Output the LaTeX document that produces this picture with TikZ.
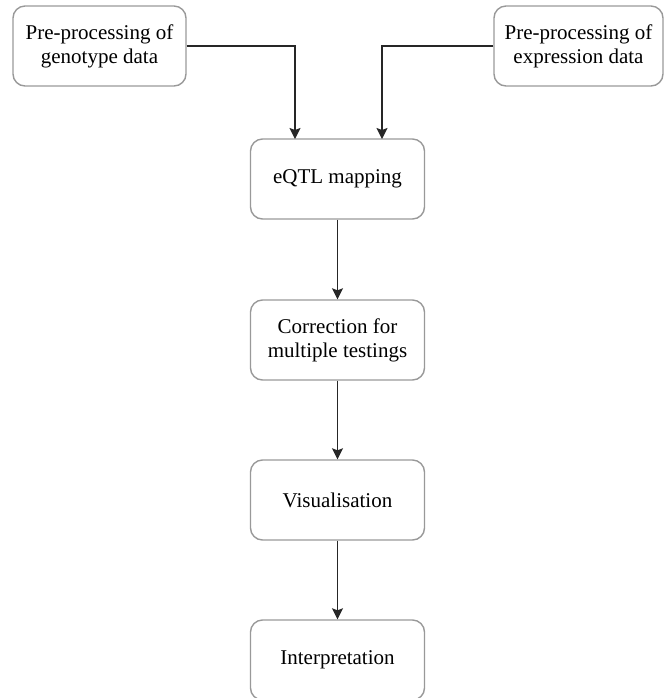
\documentclass[tikz,border=0pt]{standalone}
\usepackage{fontspec}
\setmainfont{Liberation Serif}
\usepackage{tikz}
\usetikzlibrary{arrows.meta}

\tikzset{
  procbox/.style={draw=black!40,line width=0.7pt,rounded corners=6pt,
    minimum width=87pt,minimum height=40pt,inner sep=0pt,align=center,
    font=\fontsize{10.5}{12}\selectfont},
  flow/.style={draw=black!85,line width=0.75pt,-{Stealth[length=5.5pt,width=5.5pt,inset=1pt]}}
}

\begin{document}
\begin{tikzpicture}[x=0.5pt,y=-0.5pt]
\useasboundingbox (0,0) rectangle (664,698);

% Input steps
\node[procbox,minimum width=86.5pt] (geno) at (99.5,46) {Pre-processing of\\genotype data};
\node[procbox,minimum width=84.5pt] (expr) at (578.5,46) {Pre-processing of\\expression data};

% Main pipeline
\node[procbox] (eqtl) at (337.5,179) {eQTL mapping};
\node[procbox] (corr) at (337.5,340) {Correction for\\multiple testings};
\node[procbox] (vis) at (337.5,500) {Visualisation};
\node[procbox] (interp) at (337.5,660) {Interpretation};

% Entry points on eQTL box
\coordinate (inL) at (295,139);
\coordinate (inR) at (382,139);

% Connectors
\draw[flow] (geno.east) -| (inL);
\draw[flow] (expr.west) -| (inR);
\draw[flow] (eqtl) -- (corr);
\draw[flow] (corr) -- (vis);
\draw[flow] (vis) -- (interp);
\end{tikzpicture}
\end{document}
